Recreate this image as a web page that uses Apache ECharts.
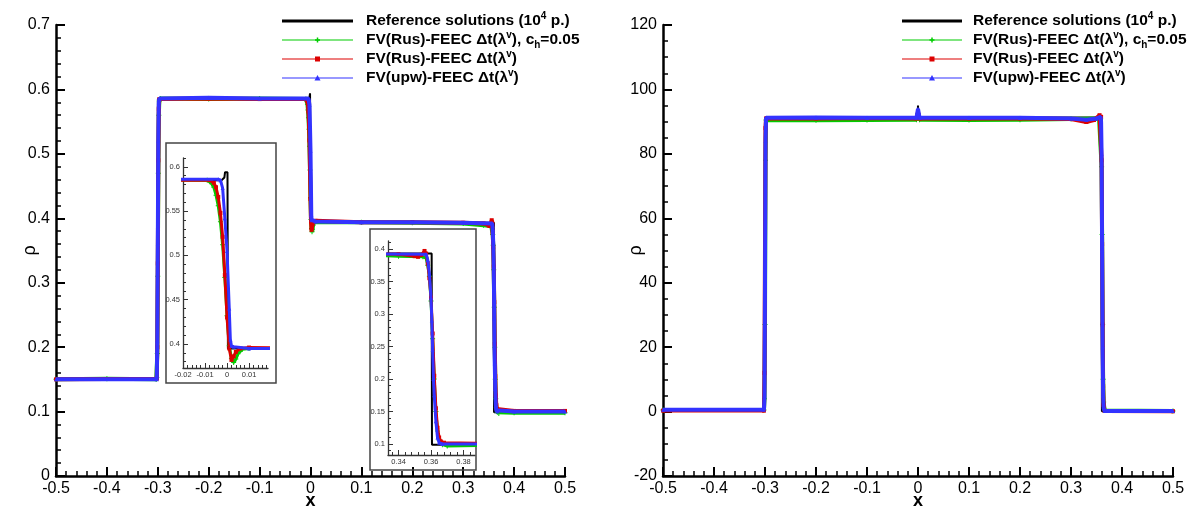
<!DOCTYPE html>
<html><head><meta charset="utf-8">
<script src="https://cdn.jsdelivr.net/npm/echarts@6/dist/echarts.min.js"></script>
<style>html,body{margin:0;padding:0;background:#fff}#c{width:1192px;height:509px}</style>
</head><body><div id="c"></div><script>
// ---------- data: left panel (rho, problem 1) ----------
const refLeft = [[-0.5,0.15],[-0.3002,0.15],[-0.2998,0.585],[-0.0025,0.585],[-0.0012,0.588],[-0.0009,0.594],[0.0002,0.594],[0.0004,0.395],[0.2,0.394],[0.3604,0.393],[0.3606,0.099],[0.5,0.099]];
const greenLeft = [[-0.5,0.15],[-0.4,0.151],[-0.303,0.15],[-0.302,0.153],[-0.301,0.19],[-0.3,0.31],[-0.299,0.47],[-0.298,0.56],[-0.297,0.582],[-0.295,0.586],[-0.2,0.585],[-0.1,0.586],[-0.009,0.585],[-0.007,0.581],[-0.006,0.577],[-0.005,0.568],[-0.004,0.556],[-0.003,0.538],[-0.002,0.512],[-0.001,0.475],[0,0.432],[0.001,0.398],[0.002,0.384],[0.003,0.379],[0.004,0.383],[0.005,0.389],[0.007,0.394],[0.01,0.395],[0.1,0.394],[0.2,0.393],[0.3,0.392],[0.34,0.389],[0.355,0.388],[0.357,0.386],[0.358,0.375],[0.359,0.358],[0.36,0.32],[0.361,0.262],[0.362,0.2],[0.363,0.15],[0.364,0.12],[0.365,0.106],[0.367,0.099],[0.37,0.097],[0.4,0.098],[0.5,0.098]];
const redLeft = [[-0.5,0.15],[-0.302,0.151],[-0.301,0.2],[-0.3,0.33],[-0.299,0.49],[-0.298,0.57],[-0.297,0.585],[-0.2,0.586],[-0.1,0.585],[-0.008,0.585],[-0.006,0.582],[-0.005,0.577],[-0.004,0.566],[-0.003,0.548],[-0.002,0.521],[-0.001,0.478],[0,0.43],[0.001,0.395],[0.002,0.382],[0.003,0.386],[0.004,0.391],[0.006,0.395],[0.01,0.396],[0.1,0.394],[0.2,0.394],[0.3,0.393],[0.34,0.392],[0.35,0.389],[0.352,0.388],[0.354,0.391],[0.356,0.397],[0.357,0.393],[0.358,0.378],[0.359,0.355],[0.36,0.325],[0.361,0.27],[0.362,0.205],[0.363,0.155],[0.364,0.125],[0.365,0.11],[0.366,0.104],[0.368,0.102],[0.4,0.101],[0.5,0.101]];
const blueLeft = [[-0.5,0.15],[-0.302,0.15],[-0.301,0.21],[-0.3,0.36],[-0.299,0.52],[-0.298,0.58],[-0.297,0.586],[-0.2,0.587],[-0.1,0.586],[-0.004,0.586],[-0.003,0.585],[-0.002,0.576],[-0.001,0.542],[0,0.505],[0.001,0.44],[0.0015,0.405],[0.002,0.398],[0.003,0.397],[0.01,0.395],[0.1,0.394],[0.2,0.394],[0.3,0.393],[0.357,0.392],[0.358,0.383],[0.359,0.362],[0.36,0.325],[0.3605,0.29],[0.361,0.245],[0.3615,0.2],[0.362,0.175],[0.363,0.135],[0.364,0.11],[0.365,0.102],[0.367,0.1],[0.4,0.1],[0.5,0.1]];
// ---------- data: right panel (rho, problem 2) ----------
const refRight = [[-0.5,0.5],[-0.3002,0.5],[-0.2998,91.3],[-0.0008,91.3],[0,95],[0.0008,91.3],[0.3604,91.3],[0.3606,0.1],[0.5,0.1]];
const greenRight = [[-0.5,0.5],[-0.302,0.5],[-0.301,4],[-0.3,27],[-0.299,78],[-0.298,90.5],[-0.2,90.4],[-0.1,90.5],[-0.003,90.6],[0,92.5],[0.003,90.6],[0.1,90.5],[0.2,90.6],[0.3,90.8],[0.355,91],[0.358,90.8],[0.36,76],[0.361,55],[0.362,27],[0.363,10],[0.364,3],[0.366,0.3],[0.5,0.2]];
const redRight = [[-0.5,0.3],[-0.302,0.3],[-0.301,12],[-0.3,52],[-0.299,88],[-0.298,91],[-0.2,91],[-0.1,91.1],[-0.003,91],[0,93],[0.003,91],[0.1,91],[0.2,91],[0.3,90.8],[0.33,89.9],[0.345,90.5],[0.356,92],[0.359,91.5],[0.36,78],[0.361,52],[0.362,27],[0.363,8],[0.364,2],[0.366,0.2],[0.5,0.1]];
const blueRight = [[-0.5,0.6],[-0.302,0.6],[-0.301,5],[-0.3,40],[-0.299,84],[-0.298,91.2],[-0.2,91.3],[-0.1,91.2],[-0.003,91.2],[0,94],[0.003,91.2],[0.1,91.2],[0.2,91.2],[0.3,91],[0.33,90.6],[0.35,91],[0.358,91.5],[0.359,90],[0.36,80],[0.361,50],[0.362,20],[0.363,5],[0.364,1],[0.366,0.2],[0.5,0.2]];
// ---------- inset tick labels ----------
const inset1XTicks = [-0.02,-0.01,0,0.01];
const inset1YTicks = [0.4,0.45,0.5,0.55,0.6];
const inset2XTicks = [0.34,0.36,0.38];
const inset2YTicks = [0.1,0.15,0.2,0.25,0.3,0.35,0.4];
const legendNames = ['Reference solutions (10^4 p.)','FV(Rus)-FEEC Δt(λ^v), c_h=0.05','FV(Rus)-FEEC Δt(λ^v)','FV(upw)-FEEC Δt(λ^v)'];

const FF = '"Liberation Sans", Arial, Helvetica, sans-serif';
const C = {ref:'#000000', green:'#00cc00', red:'#dd0000', blue:'#3333ff'};
const PLUS = 'path://M4,0h2v4h4v2h-4v4h-2v-4h-4v-2h4z';

function range(a,b,s){const r=[];for(let v=a;v<=b+1e-9;v+=s)r.push(Math.round(v*1e6)/1e6);return r;}

const chart = echarts.init(document.getElementById('c'), null, {renderer:'canvas'});

const grids = [
  {left:56, top:25, width:509, height:451, outerBoundsMode:'none', containLabel:false},
  {left:663, top:25, width:510, height:451, outerBoundsMode:'none', containLabel:false},
  {left:183, top:158, width:85, height:210, outerBoundsMode:'none', containLabel:false},
  {left:388, top:241, width:87, height:214, outerBoundsMode:'none', containLabel:false}
];

function mainX(gi){
  return {gridIndex:gi, type:'value', min:-0.5, max:0.5, interval:0.1, position:'bottom',
    name:'x', nameLocation:'middle', nameGap:16, nameMoveOverlap:false,
    nameTextStyle:{fontSize:18, fontWeight:'bold', color:'#000', fontFamily:FF},
    axisLine:{show:true, onZero:false, lineStyle:{color:'#000', width:2.5}},
    axisTick:{show:true, inside:true, length:9, lineStyle:{color:'#000', width:2}},
    minorTick:{show:true, splitNumber:5, length:5, lineStyle:{color:'#000', width:1.5}},
    axisLabel:{fontSize:16, color:'#000', fontFamily:FF, margin:5, hideOverlap:false},
    splitLine:{show:false}, minorSplitLine:{show:false}};
}
function mainY(gi, min, max, interval, minorSplit, gap){
  return {gridIndex:gi, type:'value', min:min, max:max, interval:interval, position:'left',
    name:'ρ', nameLocation:'middle', nameGap:gap, nameRotate:90, nameMoveOverlap:false,
    nameTextStyle:{fontSize:18, color:'#000', fontFamily:FF},
    axisLine:{show:true, onZero:false, lineStyle:{color:'#000', width:2.5}},
    axisTick:{show:true, inside:true, length:9, lineStyle:{color:'#000', width:2}},
    minorTick:{show:true, splitNumber:minorSplit, length:5, lineStyle:{color:'#000', width:1.5}},
    axisLabel:{fontSize:16, color:'#000', fontFamily:FF, margin:6, hideOverlap:false},
    splitLine:{show:false}, minorSplitLine:{show:false}};
}
function insetAxis(gi, pos, min, max, majors, minors, showLine){
  return {gridIndex:gi, type:'value', min:min, max:max, position:pos, offset:0,
    axisLine:{show:showLine, onZero:false, lineStyle:{color:'#333', width:1.3}},
    axisTick:{show:true, inside:true, length:showLine?5:3, customValues: showLine?majors:minors, lineStyle:{color:'#333', width:1}},
    axisLabel:{show:showLine, customValues:majors, fontSize:7.5, color:'#333', fontFamily:FF, margin:3, hideOverlap:false},
    splitLine:{show:false}};
}

const xAxes = [
  mainX(0), mainX(1),
  insetAxis(2,'bottom',-0.02,0.0186,inset1XTicks,range(-0.02,0.018,0.002),true),
  insetAxis(2,'bottom',-0.02,0.0186,inset1XTicks,range(-0.02,0.018,0.002),false),
  insetAxis(3,'bottom',0.3335,0.3871,inset2XTicks,range(0.336,0.386,0.004),true),
  insetAxis(3,'bottom',0.3335,0.3871,inset2XTicks,range(0.336,0.386,0.004),false)
];
const yAxes = [
  mainY(0,0,0.7,0.1,5,17),
  mainY(1,-20,120,20,4,18),
  insetAxis(2,'left',0.3729,0.610,inset1YTicks,range(0.38,0.61,0.01),true),
  insetAxis(2,'left',0.3729,0.610,inset1YTicks,range(0.38,0.61,0.01),false),
  insetAxis(3,'left',0.0831,0.4123,inset2YTicks,range(0.09,0.41,0.01),true),
  insetAxis(3,'left',0.0831,0.4123,inset2YTicks,range(0.09,0.41,0.01),false)
];

function line(data, color, width, symbol, size, xi, yi, z){
  return {type:'line', data:data, xAxisIndex:xi, yAxisIndex:yi, z:z,
    showSymbol: symbol!=='none', symbol:symbol, symbolSize:size,
    itemStyle:{color:color}, lineStyle:{color:color, width:width},
    animation:false, silent:true, clip:true};
}
function setFor(ref, g, r, b, xi, yi, w, ms){
  return [
    line(ref, C.ref, 2, 'none', 0, xi, yi, 2),
    line(g, C.green, w, PLUS, ms+1, xi, yi, 3),
    line(r, C.red, w, 'rect', ms, xi, yi, 4),
    line(b, C.blue, w, 'triangle', ms, xi, yi, 5)
  ];
}
const series = [].concat(
  setFor(refLeft, greenLeft, redLeft, blueLeft, 0, 0, 4, 4),
  setFor(refRight, greenRight, redRight, blueRight, 1, 1, 4, 4),
  setFor(refLeft, greenLeft, redLeft, blueLeft, 2, 2, 3, 4),
  setFor(refLeft, greenLeft, redLeft, blueLeft, 4, 4, 3, 4)
);

// legends drawn as graphic elements (need super/subscripts)
const FS = 15.5;
const rich = {
  b:{fontSize:FS, fontWeight:'bold', fontFamily:FF, color:'#000', lineHeight:20},
  sup:{fontSize:10, fontWeight:'bold', fontFamily:FF, color:'#000', verticalAlign:'top', lineHeight:20},
  sub:{fontSize:10, fontWeight:'bold', fontFamily:FF, color:'#000', verticalAlign:'bottom', lineHeight:20}
};
function richText(s){
  let out='', buf='';
  for(let i=0;i<s.length;i++){
    const ch=s[i];
    if((ch==='^'||ch==='_') && i+1<s.length){
      if(buf){out+='{b|'+buf+'}';buf='';}
      out+='{'+(ch==='^'?'sup':'sub')+'|'+s[i+1]+'}'; i++;
    } else buf+=ch;
  }
  if(buf) out+='{b|'+buf+'}';
  return out;
}
function legend(x0, x1, tx, ys){
  const els=[];
  const cols=[C.ref,C.green,C.red,C.blue];
  const syms=[null,'plus','rect','tri'];
  for(let i=0;i<4;i++){
    const y=ys[i];
    els.push({type:'line', shape:{x1:x0,y1:y,x2:x1,y2:y}, style:{stroke:cols[i], lineWidth:i===0?3:1.2}, z:10});
    const mx=(x0+x1)/2;
    if(syms[i]==='plus'){
      els.push({type:'line', shape:{x1:mx-2.5,y1:y,x2:mx+2.5,y2:y}, style:{stroke:cols[i], lineWidth:1.5}, z:11});
      els.push({type:'line', shape:{x1:mx,y1:y-2.5,x2:mx,y2:y+2.5}, style:{stroke:cols[i], lineWidth:1.5}, z:11});
    } else if(syms[i]==='rect'){
      els.push({type:'rect', shape:{x:mx-2.5,y:y-2.5,width:5,height:5}, style:{fill:cols[i]}, z:11});
    } else if(syms[i]==='tri'){
      els.push({type:'polygon', shape:{points:[[mx,y-3],[mx+3,y+2.5],[mx-3,y+2.5]]}, style:{fill:cols[i]}, z:11});
    }
    els.push({type:'text', x:tx, y:y, style:{text:richText(legendNames[i]), rich:rich, verticalAlign:'middle', align:'left'}, z:11});
  }
  return els;
}
const graphics = [].concat(
  legend(282,353,366,[21,40,59,78]),
  legend(902,962,973,[21,40,59,78]),
  [
    {type:'rect', shape:{x:166,y:143,width:110,height:240}, style:{fill:'none', stroke:'#444', lineWidth:1.5}, z:1},
    {type:'rect', shape:{x:370,y:229,width:106,height:241}, style:{fill:'none', stroke:'#444', lineWidth:1.5}, z:1}
  ]
);

chart.setOption({
  animation:false,
  backgroundColor:'#fff',
  grid:grids, xAxis:xAxes, yAxis:yAxes, series:series,
  graphic:{elements:graphics}
});
</script></body></html>
